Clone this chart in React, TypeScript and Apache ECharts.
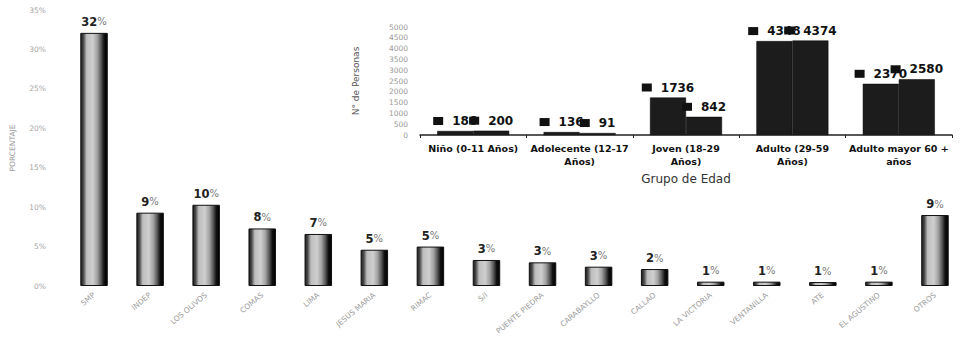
import React, { useEffect, useRef } from "react";
import * as echarts from "echarts";

const districts = [
  "SMP", "INDEP", "LOS OLIVOS", "COMAS", "LIMA", "JESUS MARIA", "RIMAC", "S/I",
  "PUENTE PIEDRA", "CARABAYLLO", "CALLAO", "LA VICTORIA", "VENTANILLA", "ATE",
  "EL AGUSTINO", "OTROS",
];
const percentValues = [32.1, 9.3, 10.3, 7.3, 6.6, 4.6, 5.0, 3.3, 3.0, 2.45, 2.15, 0.55, 0.55, 0.5, 0.55, 9.0];
const percentLabels = ["32", "9", "10", "8", "7", "5", "5", "3", "3", "3", "2", "1", "1", "1", "1", "9"];

const ageGroups = [
  "Niño (0-11 Años)",
  "Adolecente (12-17\nAños)",
  "Joven (18-29\nAños)",
  "Adulto (29-59\nAños)",
  "Adulto mayor 60 +\naños",
];
const ageSeriesA = [186, 136, 1736, 4348, 2370];
const ageSeriesB = [200, 91, 842, 4374, 2580];

const FONT = "DejaVu Sans";

export default function App() {
  const ref = useRef<HTMLDivElement>(null);
  useEffect(() => {
    document.body.style.margin = "0";
    if (!ref.current) return;
    const chart = echarts.init(ref.current, undefined, { renderer: "svg" });
    const barGradient = new echarts.graphic.LinearGradient(0, 0, 1, 0, [
      { offset: 0, color: "#1a1a1a" },
      { offset: 0.1, color: "#4a4a4a" },
      { offset: 0.22, color: "#bdbdbd" },
      { offset: 0.45, color: "#cfcfcf" },
      { offset: 0.62, color: "#a3a3a3" },
      { offset: 0.78, color: "#505050" },
      { offset: 0.88, color: "#111" },
      { offset: 1, color: "#000" },
    ]);
    const squareLabel = (v: any) => `{s|}{v|${v.value}}`;
    const insetLabel = {
      show: true,
      position: "top",
      distance: 4,
      formatter: squareLabel,
      rich: {
        s: { backgroundColor: "#111", width: 10, height: 8, padding: 0 },
        v: { fontFamily: FONT, fontWeight: "bold", fontSize: 12, color: "#111", padding: [0, 0, 0, 9] },
      },
    };
    chart.setOption({
      animation: false,
      backgroundColor: "#fff",
      textStyle: { fontFamily: FONT },
      grid: [
        { left: 65, right: -22, top: 10, bottom: 57 },
        { left: 420, right: 11, top: 27, bottom: 208 },
      ],
      xAxis: [
        {
          type: "category",
          gridIndex: 0,
          data: districts,
          axisLine: { show: false },
          axisTick: { show: false },
          axisLabel: {
            interval: 0,
            rotate: 40,
            fontSize: 7.5,
            color: "#9a9a9a",
            margin: 8,
            fontFamily: FONT,
          },
        },
        {
          type: "category",
          gridIndex: 1,
          data: ageGroups,
          axisLine: { show: true, lineStyle: { color: "#222", width: 1.5 } },
          axisTick: { show: true, length: 3, lineStyle: { color: "#222" } },
          axisLabel: {
            interval: 0,
            fontSize: 9.5,
            fontWeight: "bold",
            color: "#111",
            lineHeight: 13,
            margin: 7,
            fontFamily: FONT,
          },
          name: "Grupo de Edad",
          nameLocation: "middle",
          nameGap: 38,
          nameTextStyle: { fontSize: 12, color: "#333", fontFamily: FONT },
        },
      ],
      yAxis: [
        {
          type: "value",
          gridIndex: 0,
          min: 0,
          max: 35,
          interval: 5,
          splitLine: { show: false },
          axisLine: { show: false },
          axisTick: { show: false },
          axisLabel: { formatter: "{value}%", fontSize: 7.5, color: "#a5a5a5", margin: 20, fontFamily: FONT },
          name: "PORCENTAJE",
          nameLocation: "middle",
          nameGap: 50,
          nameTextStyle: { fontSize: 7.5, color: "#999", fontFamily: FONT },
        },
        {
          type: "value",
          gridIndex: 1,
          min: 0,
          max: 5000,
          interval: 500,
          splitLine: { show: false },
          axisLine: { show: false },
          axisTick: { show: false },
          axisLabel: { formatter: (v: number) => String(v), fontSize: 7.5, color: "#999", margin: 12, fontFamily: FONT },
          name: "N° de Personas",
          nameLocation: "middle",
          nameGap: 60,
          nameTextStyle: { fontSize: 9, color: "#555", fontFamily: FONT },
        },
      ],
      series: [
        {
          type: "bar",
          xAxisIndex: 0,
          yAxisIndex: 0,
          data: percentValues,
          barWidth: "49%",
          itemStyle: { color: barGradient, borderColor: "#111", borderWidth: 1 },
          label: {
            show: true,
            position: "top",
            distance: 5,
            formatter: (p: any) => `{n|${percentLabels[p.dataIndex]}}{p|%}`,
            rich: {
              n: { fontFamily: FONT, fontWeight: "bold", fontSize: 11.5, color: "#222" },
              p: { fontFamily: FONT, fontSize: 10, color: "#777" },
            },
          },
        },
        {
          type: "bar",
          xAxisIndex: 1,
          yAxisIndex: 1,
          data: ageSeriesA,
          barWidth: 36,
          barGap: "0%",
          itemStyle: { color: "#1c1c1c", borderColor: "#000", borderWidth: 0.5 },
          label: insetLabel,
        },
        {
          type: "bar",
          xAxisIndex: 1,
          yAxisIndex: 1,
          data: ageSeriesB,
          barWidth: 36,
          barGap: "0%",
          itemStyle: { color: "#1c1c1c", borderColor: "#000", borderWidth: 0.5 },
          label: insetLabel,
        },
      ],
    });
    return () => chart.dispose();
  }, []);
  return <div ref={ref} style={{ width: 963, height: 343 }} />;
}
